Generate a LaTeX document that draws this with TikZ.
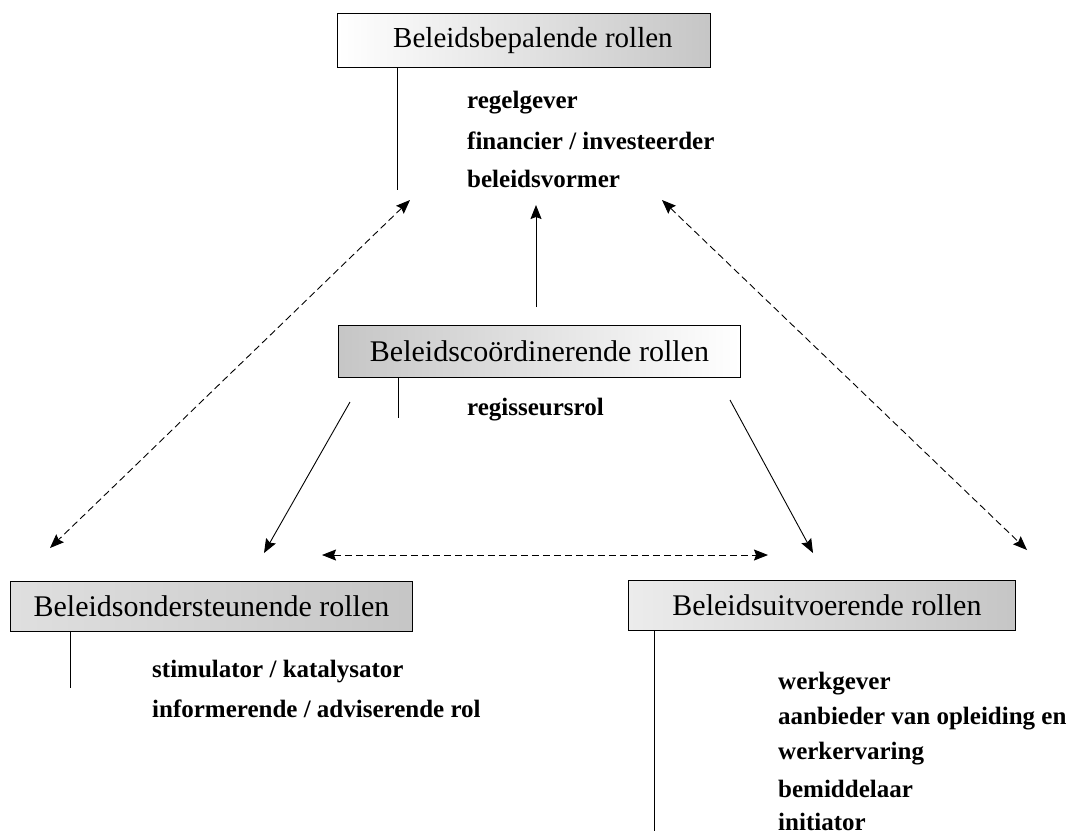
\documentclass[tikz,border=0pt]{standalone}
\usepackage{fontspec}
\setmainfont{Liberation Serif}
\usetikzlibrary{arrows.meta}
\tikzset{
  rolebox/.style={draw=black, line width=0.9pt, rectangle, inner sep=0pt, anchor=north west},
  item/.style={anchor=west, inner sep=0pt, font=\bfseries\fontsize{25}{29}\selectfont},
  tick/.style={line width=0.9pt},
  conn/.style={line width=0.9pt, -{Stealth[length=14pt,width=11pt,inset=2pt]}},
  dconn/.style={line width=0.9pt, dash pattern=on 7pt off 4pt, {Stealth[length=14pt,width=11pt,inset=2pt]}-{Stealth[length=14pt,width=11pt,inset=2pt]}}
}
\begin{document}
\begin{tikzpicture}[x=1pt,y=-1pt]
\useasboundingbox (0,0) rectangle (1070,831);
% boxes
\node[rolebox, minimum width=373pt, minimum height=54pt, left color=white, right color=gray!45,
      font=\fontsize{29}{33}\selectfont] (top) at (337,13) {\hspace*{18pt}Beleidsbepalende rollen};
\node[rolebox, minimum width=402pt, minimum height=52pt, left color=gray!45, right color=white,
      font=\fontsize{30}{34}\selectfont] (mid) at (338,325) {Beleidscoördinerende rollen};
\node[rolebox, minimum width=402pt, minimum height=50pt, left color=gray!25, right color=gray!45,
      font=\fontsize{30}{34}\selectfont] (left) at (10,581) {Beleidsondersteunende rollen};
\node[rolebox, minimum width=387pt, minimum height=50pt, left color=gray!15, right color=gray!45,
      font=\fontsize{30}{34}\selectfont] (right) at (628,580) {\hspace*{10pt}Beleidsuitvoerende rollen};
% tick lines
\coordinate (t1) at (397,190);
\coordinate (t2) at (398,418);
\coordinate (t3) at (70,688);
\coordinate (t4) at (654,831);
\draw[tick] (top.south -| t1) -- (t1);
\draw[tick] (mid.south -| t2) -- (t2);
\draw[tick] (left.south -| t3) -- (t3);
\draw[tick] (right.south -| t4) -- (t4);
% lists
\node[item] (a1) at (467,103) {regelgever};
\node[item] (a2) at (467,141) {financier / investeerder};
\node[item] (a3) at (467,179) {beleidsvormer};
\node[item] (b1) at (467,410) {regisseursrol};
\node[item] (c1) at (152,672) {stimulator / katalysator};
\node[item] (c2) at (152,709) {informerende / adviserende rol};
\node[item] (d1) at (778,684) {werkgever};
\node[item] (d2) at (778,719) {aanbieder van opleiding en};
\node[item] (d3) at (778,754) {werkervaring};
\node[item] (d4) at (778,789) {bemiddelaar};
\node[item] (d5) at (778,822) {initiator};
% connector ends
\coordinate (upS) at (536,307);
\coordinate (upE) at (536,205);
\coordinate (dlA) at (410,200);
\coordinate (dlB) at (50,548);
\coordinate (drA) at (662,200);
\coordinate (drB) at (1027,550);
\coordinate (slS) at (350,402);
\coordinate (slE) at (264,553);
\coordinate (srS) at (730,400);
\coordinate (srE) at (813,553);
\coordinate (hA) at (322,555);
\coordinate (hB) at (768,555);
\draw[conn] (upS) -- (upE);
\draw[conn] (slS) -- (slE);
\draw[conn] (srS) -- (srE);
\draw[dconn] (dlA) -- (dlB);
\draw[dconn] (drA) -- (drB);
\draw[dconn] (hA) -- (hB);
\end{tikzpicture}
\end{document}
